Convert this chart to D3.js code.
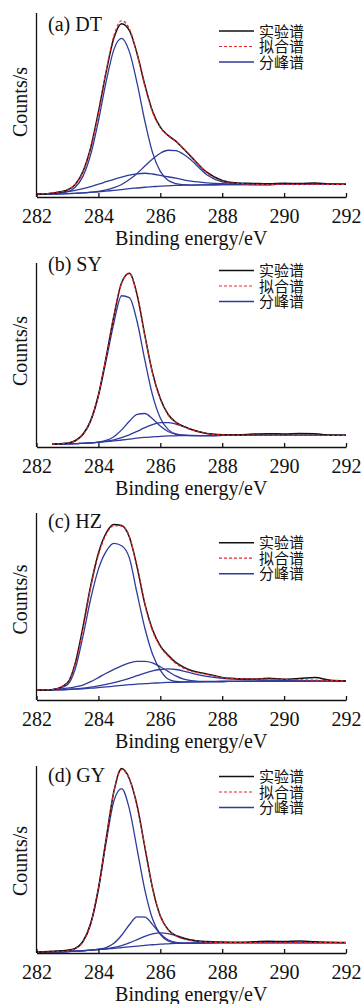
<!DOCTYPE html>
<html>
<head>
<meta charset="utf-8">
<script src="https://cdn.jsdelivr.net/npm/d3@7"></script>
<style>
  body { margin: 0; background: #fff; }
  svg { display: block; }
</style>
</head>
<body>
<div id="spectres"></div>
<script>
//------Données (intensité en % de la hauteur de l'axe)
const energies = [282, 282.5, 283, 283.25, 283.5, 283.75, 284, 284.25, 284.5, 284.75, 285, 285.25, 285.5, 285.75,
  286, 286.25, 286.5, 286.75, 287, 287.5, 288, 288.5, 289, 289.5, 290, 290.5, 291, 291.5, 292];
const tickLabels = [282, 284, 286, 288, 290, 292];
const panelLabels = ["(a) DT", "(b) SY", "(c) HZ", "(d) GY"];
const legendLabels = ["实验谱", "拟合谱", "分峰谱"];
const xTitle = "Binding energy/eV";
const yTitle = "Counts/s";

// (a) DT
const expA = [1.4, 2.1, 3.8, 6.8, 13.8, 26.8, 46.2, 68.0, 86.4, 94.2, 90.6, 77.9, 61.0, 46.6, 38.0, 33.5, 30.4, 26.2, 21.8, 13.5, 9.0, 7.6, 7.4, 7.2, 7.5, 7.3, 7.6, 7.0, 6.9];
const fitA = [1.5, 2.2, 4.0, 6.9, 13.5, 26.2, 45.8, 68.5, 87.6, 95.8, 91.4, 77.5, 60.4, 46.1, 37.7, 33.3, 30.1, 26.4, 22.1, 13.2, 8.7, 7.4, 6.9, 6.8, 6.9, 6.9, 6.9, 6.9, 6.9];
const bgA = [1.5, 1.6, 1.8, 2.0, 2.2, 2.5, 2.8, 3.2, 3.6, 4.0, 4.5, 4.9, 5.3, 5.6, 5.9, 6.1, 6.3, 6.4, 6.5, 6.6, 6.7, 6.8, 6.8, 6.8, 6.9, 6.9, 6.9, 6.9, 6.9];
const pic1A = [1.5, 1.8, 2.8, 5.3, 11.2, 23.0, 41.3, 62.7, 80.1, 86.2, 79.0, 61.9, 41.3, 24.1, 13.9, 9.1, 7.3, 6.7, 6.5, 6.6, 6.7, 6.8, 6.8, 6.8, 6.9, 6.9, 6.9, 6.9, 6.9];
const pic2A = [1.5, 1.6, 1.8, 2.0, 2.2, 2.6, 3.1, 3.9, 5.1, 6.8, 9.5, 12.8, 16.8, 20.7, 23.8, 25.4, 25.2, 23.2, 20.0, 12.1, 8.2, 7.2, 6.8, 6.8, 6.9, 6.9, 6.9, 6.9, 6.9];
const pic3A = [1.5, 2.0, 3.0, 3.6, 4.5, 5.6, 7.0, 8.3, 9.6, 10.8, 11.9, 12.6, 12.9, 12.5, 11.8, 11.0, 10.2, 9.3, 8.6, 7.7, 7.2, 7.0, 6.9, 6.8, 6.9, 6.9, 6.9, 6.9, 6.9];

// (b) SY
const expB = [null, 1.5, 2.0, 3.4, 6.9, 14.4, 28.3, 48.8, 71.2, 89.3, 94.4, 82.8, 60.8, 40.3, 26.3, 17.8, 13.5, 11.2, 9.5, 7.4, 6.7, 6.6, 7.0, 7.2, 7.1, 7.4, 7.2, 6.5, 6.4];
const fitB = [null, 1.6, 2.1, 3.3, 6.7, 14.1, 28.0, 48.5, 71.0, 89.0, 94.2, 82.5, 60.5, 40.0, 26.0, 17.5, 13.3, 11.0, 9.4, 7.3, 6.6, 6.4, 6.4, 6.3, 6.3, 6.3, 6.3, 6.3, 6.3];
const bgB = [null, 1.6, 1.7, 1.8, 2.0, 2.2, 2.5, 2.9, 3.3, 3.8, 4.3, 4.8, 5.2, 5.5, 5.8, 6.0, 6.1, 6.2, 6.2, 6.2, 6.3, 6.3, 6.3, 6.3, 6.3, 6.3, 6.3, 6.3, 6.3];
const pic1B = [null, 1.6, 2.1, 3.3, 6.7, 14.1, 27.6, 47.0, 67.4, 82.2, 81.2, 68.2, 47.3, 28.2, 15.8, 9.6, 7.1, 6.4, 6.3, 6.2, 6.3, 6.3, 6.3, 6.3, 6.3, 6.3, 6.3, 6.3, 6.3];
const pic2B = [null, 1.6, 1.7, 1.8, 2.0, 2.2, 2.7, 3.6, 5.6, 9.3, 14.0, 17.7, 18.2, 15.3, 11.4, 8.4, 6.9, 6.4, 6.2, 6.2, 6.3, 6.3, 6.3, 6.3, 6.3, 6.3, 6.3, 6.3, 6.3];
const pic3B = [null, 1.6, 1.7, 1.8, 2.0, 2.2, 2.6, 3.2, 3.9, 5.1, 6.6, 8.5, 10.5, 12.2, 13.2, 13.3, 12.5, 11.2, 9.6, 7.3, 6.5, 6.3, 6.3, 6.3, 6.3, 6.3, 6.3, 6.3, 6.3];

// (c) HZ
const expC = [5.2, 5.5, 9.2, 19.6, 39.0, 61.0, 78.5, 89.3, 93.9, 93.3, 87.2, 71.2, 51.5, 37.6, 29.0, 24.0, 20.1, 17.6, 15.8, 13.9, 12.1, 11.4, 11.2, 11.6, 11.1, 11.5, 12.0, 10.6, 10.3];
const fitC = [5.3, 5.6, 9.0, 19.0, 38.0, 60.0, 77.5, 88.5, 93.2, 93.0, 87.5, 71.0, 51.0, 37.0, 28.5, 23.5, 19.6, 17.0, 15.4, 13.7, 12.0, 11.5, 11.3, 11.2, 11.0, 10.8, 10.6, 10.4, 10.2];
const bgC = [5.3, 5.4, 5.6, 5.8, 6.0, 6.3, 6.6, 7.0, 7.4, 7.8, 8.2, 8.5, 8.8, 9.0, 9.2, 9.4, 9.5, 9.6, 9.7, 9.8, 9.9, 10.0, 10.0, 10.1, 10.1, 10.1, 10.2, 10.2, 10.2];
const pic1C = [5.3, 5.5, 8.2, 16.5, 34.0, 54.0, 70.0, 79.5, 83.8, 82.5, 76.0, 57.0, 38.5, 24.5, 16.0, 11.2, 9.9, 9.7, 9.7, 9.8, 9.9, 10.0, 10.0, 10.1, 10.1, 10.1, 10.2, 10.2, 10.2];
const pic2C = [5.3, 5.6, 6.3, 7.0, 8.0, 9.8, 12.0, 14.3, 16.4, 18.3, 19.8, 20.7, 20.7, 19.9, 17.8, 15.3, 12.9, 11.2, 10.4, 9.9, 9.9, 10.0, 10.0, 10.1, 10.1, 10.1, 10.2, 10.2, 10.2];
const pic3C = [5.3, 5.4, 5.7, 6.0, 6.3, 6.9, 7.6, 8.4, 9.3, 10.4, 11.6, 13.0, 14.4, 15.6, 16.3, 16.6, 16.3, 15.5, 14.4, 12.6, 11.6, 11.1, 10.8, 10.6, 10.5, 10.4, 10.3, 10.3, 10.2];

// (d) GY
const expD = [0.4, 0.9, 1.5, 2.5, 6.2, 15.8, 34.6, 61.0, 86.4, 98.6, 93.2, 78.8, 56.6, 34.6, 19.8, 12.6, 9.3, 7.8, 6.8, 6.1, 5.9, 5.8, 6.0, 6.3, 6.1, 6.4, 6.0, 5.7, 5.6];
const fitD = [0.5, 0.6, 1.1, 2.3, 6.0, 15.5, 34.1, 60.5, 86.0, 98.0, 93.0, 79.0, 57.0, 35.0, 20.0, 12.5, 9.2, 7.6, 6.6, 5.8, 5.6, 5.5, 5.5, 5.6, 5.6, 5.6, 5.6, 5.6, 5.6];
const bgD = [0.5, 0.6, 0.8, 1.0, 1.2, 1.5, 1.8, 2.1, 2.5, 2.9, 3.3, 3.7, 4.1, 4.4, 4.7, 4.9, 5.1, 5.2, 5.3, 5.4, 5.5, 5.5, 5.5, 5.6, 5.6, 5.6, 5.6, 5.6, 5.6];
const pic1D = [0.5, 0.6, 1.1, 2.3, 6.0, 15.5, 33.8, 59.1, 81.3, 87.9, 77.1, 55.6, 33.8, 18.2, 10.0, 6.5, 5.5, 5.3, 5.3, 5.4, 5.5, 5.5, 5.5, 5.6, 5.6, 5.6, 5.6, 5.6, 5.6];
const pic2D = [0.5, 0.6, 0.8, 1.0, 1.2, 1.5, 2.0, 2.9, 5.2, 9.5, 15.1, 19.3, 19.2, 15.2, 10.3, 7.1, 5.7, 5.3, 5.3, 5.4, 5.5, 5.5, 5.5, 5.6, 5.6, 5.6, 5.6, 5.6, 5.6];
const pic3D = [0.5, 0.6, 0.8, 1.0, 1.2, 1.5, 1.9, 2.3, 3.0, 4.0, 5.4, 7.1, 8.9, 10.2, 10.8, 10.4, 9.4, 8.1, 7.0, 5.8, 5.6, 5.5, 5.5, 5.6, 5.6, 5.6, 5.6, 5.6, 5.6];

const spectres = [
  { exp: expA, fit: fitA, pics: [bgA, pic1A, pic2A, pic3A] },
  { exp: expB, fit: fitB, pics: [bgB, pic1B, pic2B, pic3B] },
  { exp: expC, fit: fitC, pics: [bgC, pic1C, pic2C, pic3C] },
  { exp: expD, fit: fitD, pics: [bgD, pic1D, pic2D, pic3D] }
];

//------Mise en page de chaque panneau (pixels)
const layout = [
  { top: 13, bottom: 197, label: 30.5, legend: 31, countsY: 102 },
  { top: 263, bottom: 447, label: 270.5, legend: 270.5, countsY: 351 },
  { top: 513, bottom: 700, label: 527.5, legend: 542.7, countsY: 599.5 },
  { top: 766, bottom: 953, label: 781.5, legend: 776.5, countsY: 861 }
];
const serif = "'Liberation Serif', 'Times New Roman', serif";
const cjk = "'Noto Sans CJK SC', sans-serif";
const colors = { exp: "#111111", fit: "#e8262a", pic: "#2e3b9c" };
const rowGap = 15.5;

const svg = d3
  .select("#spectres")
  .append("svg")
  .attr("width", 362)
  .attr("height", 1004);

const xScale = d3
  .scaleLinear()
  .domain([282, 292])
  .range([36.5, 346]);

spectres.forEach(function (s, i) {
  const l = layout[i];
  const g = svg.append("g");

  const yScale = d3
    .scaleLinear()
    .domain([0, 100])
    .range([l.bottom, l.top]);

  const line = d3.line()
    .defined(d => d[1] != null)
    .x(d => xScale(d[0]))
    .y(d => yScale(d[1]))
    .curve(d3.curveMonotoneX);

  const points = serie => energies.map((e, k) => [e, serie[k]]);

  //------Pics décomposés
  s.pics.forEach(p => {
    g.append("path")
      .attr("d", line(points(p)))
      .attr("fill", "none")
      .attr("stroke", colors.pic)
      .attr("stroke-width", 1.3);
  });

  //------Spectre expérimental puis ajustement
  g.append("path")
    .attr("d", line(points(s.exp)))
    .attr("fill", "none")
    .attr("stroke", colors.exp)
    .attr("stroke-width", 1.5);

  g.append("path")
    .attr("d", line(points(s.fit)))
    .attr("fill", "none")
    .attr("stroke", colors.fit)
    .attr("stroke-width", 1.2)
    .attr("stroke-dasharray", "3,2");

  //------Axe x
  const axis = g.append("g")
    .attr("transform", `translate(0,${l.bottom})`)
    .call(d3.axisBottom(xScale)
      .tickValues(tickLabels)
      .tickSize(-4)
      .tickSizeOuter(0)
      .tickPadding(12));
  axis.attr("font-family", serif).attr("font-size", 20);
  axis.selectAll("path, line").attr("stroke", "#111").attr("stroke-width", 1.3);
  axis.selectAll("text").attr("fill", "#111");

  //------Axe y (sans graduations)
  g.append("line")
    .attr("x1", xScale(282)).attr("x2", xScale(282))
    .attr("y1", l.top).attr("y2", l.bottom)
    .attr("stroke", "#111")
    .attr("stroke-width", 1.3);

  g.append("text")
    .attr("x", (xScale(282) + xScale(292)) / 2)
    .attr("y", l.bottom + 48)
    .attr("text-anchor", "middle")
    .attr("font-family", serif)
    .attr("font-size", 20)
    .attr("fill", "#111")
    .text(xTitle);

  g.append("text")
    .attr("transform", `translate(26.5,${l.countsY}) rotate(-90)`)
    .attr("text-anchor", "middle")
    .attr("font-family", serif)
    .attr("font-size", 20)
    .attr("fill", "#111")
    .text(yTitle);

  g.append("text")
    .attr("x", 48)
    .attr("y", l.label)
    .attr("font-family", serif)
    .attr("font-size", 20)
    .attr("fill", "#111")
    .text(panelLabels[i]);

  //------Légende (un seul bloc de texte, une ligne par série)
  const styles = [
    { color: colors.exp, dash: null, w: 1.5 },
    { color: colors.fit, dash: "3,2", w: 1.2 },
    { color: colors.pic, dash: null, w: 1.5 }
  ];
  legendLabels.forEach((txt, k) => {
    const y = l.legend + k * rowGap;
    g.append("line")
      .attr("x1", 219).attr("x2", 254)
      .attr("y1", y).attr("y2", y)
      .attr("stroke", styles[k].color)
      .attr("stroke-width", styles[k].w)
      .attr("stroke-dasharray", styles[k].dash);
  });

  g.append("text")
    .attr("font-family", cjk)
    .attr("font-size", 15)
    .attr("fill", "#111")
    .selectAll("tspan")
    .data(legendLabels)
    .join("tspan")
    .attr("x", 259)
    .attr("y", (d, k) => l.legend + k * rowGap + 5.5)
    .text(d => d);
});
</script>
</body>
</html>
